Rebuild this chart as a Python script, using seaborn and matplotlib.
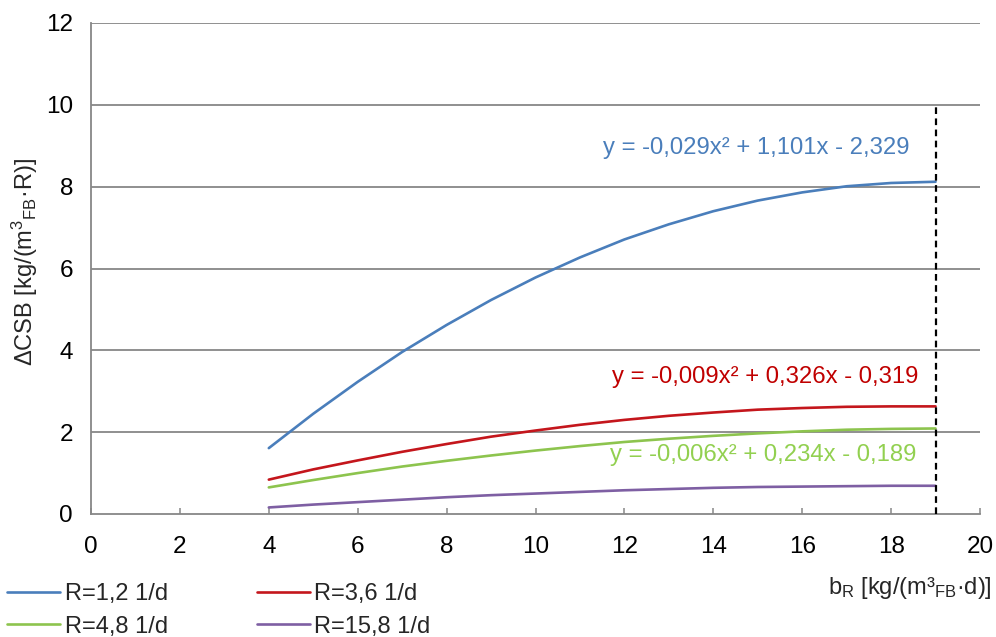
import numpy as np
import pandas as pd
import matplotlib
matplotlib.use("Agg")
import matplotlib.pyplot as plt
from matplotlib.lines import Line2D
import seaborn as sns

# ---- data ----
x_vals = [4, 5, 6, 7, 8, 9, 10, 11, 12, 13, 14, 15, 16, 17, 18, 19]
r12 = [1.61, 2.45, 3.23, 3.96, 4.62, 5.23, 5.78, 6.27, 6.71, 7.08, 7.40, 7.66, 7.86, 8.01, 8.09, 8.12]
r36 = [0.84, 1.09, 1.31, 1.52, 1.71, 1.89, 2.04, 2.18, 2.30, 2.40, 2.48, 2.55, 2.59, 2.62, 2.63, 2.63]
r48 = [0.65, 0.83, 1.00, 1.16, 1.30, 1.43, 1.55, 1.66, 1.76, 1.84, 1.91, 1.97, 2.02, 2.06, 2.08, 2.09]
r158 = [0.16, 0.23, 0.29, 0.35, 0.41, 0.46, 0.50, 0.54, 0.58, 0.61, 0.64, 0.66, 0.67, 0.68, 0.69, 0.69]
series_names = ["R=1,2 1/d", "R=3,6 1/d", "R=4,8 1/d", "R=15,8 1/d"]
colors = ["#4A7EBB", "#C4161C", "#8DC44E", "#7E5FA3"]
eq_texts = ["y = -0,029x² + 1,101x - 2,329",
            "y = -0,009x² + 0,326x - 0,319",
            "y = -0,006x² + 0,234x - 0,189"]
eq_colors = ["#4A7EBB", "#C00000", "#92D050"]
eq_pos = [(18.42, 8.95), (18.62, 3.36), (18.56, 1.45)]
x_ticks = [0, 2, 4, 6, 8, 10, 12, 14, 16, 18, 20]
y_ticks = [0, 2, 4, 6, 8, 10, 12]
vline_x = 19
vline_top = 10

sns.set_theme(style="white")
plt.rcParams["font.family"] = ["Liberation Sans", "DejaVu Sans"]
plt.rcParams["mathtext.fontset"] = "custom"
plt.rcParams["mathtext.rm"] = "Liberation Sans"
plt.rcParams["mathtext.it"] = "Liberation Sans:italic"

frames = []
for name, vals in zip(series_names, [r12, r36, r48, r158]):
    frames.append(pd.DataFrame({"x": x_vals, "y": vals, "series": name}))
df = pd.concat(frames, ignore_index=True)

fig = plt.figure(figsize=(9.96, 6.37), dpi=100)
ax = fig.add_axes([91 / 996, 1 - 514 / 637, (980 - 91) / 996, (514 - 23) / 637])

grid_c = "#878787"
for yt in y_ticks[1:]:
    ax.axhline(yt, color=grid_c, lw=1.3, zorder=0)

sns.lineplot(data=df, x="x", y="y", hue="series", palette=colors,
             hue_order=series_names, lw=1.9, ax=ax, legend=False, zorder=3)

ax.plot([vline_x, vline_x], [0, vline_top], color="black", lw=1.6,
        linestyle=(0, (3, 2)), zorder=4)

for t, c, (px, py) in zip(eq_texts, eq_colors, eq_pos):
    ax.text(px, py, t, color=c, fontsize=17.2, ha="right", va="center")

ax.set_xlim(0, 20)
ax.set_ylim(0, 12)
ax.set_xticks(x_ticks)
ax.set_yticks(y_ticks)
ax.set_xlabel("")
ax.set_ylabel("")
for s in ["top", "right"]:
    ax.spines[s].set_visible(False)
for s in ["left", "bottom"]:
    ax.spines[s].set_color(grid_c)
    ax.spines[s].set_linewidth(1.3)
ax.tick_params(axis="x", direction="in", length=4.5, width=1.1, color=grid_c,
               labelsize=17.5, pad=16, labelcolor="black", bottom=True)
ax.tick_params(axis="y", length=0, labelsize=17.5, pad=13, labelcolor="black")

fig.text(992 / 996, 1 - 588 / 637, r"b$_\mathrm{R}$ [kg/(m³$_\mathrm{FB}$·d)]",
         ha="right", va="center", fontsize=17)
fig.text(25 / 996, 1 - 262 / 637, r"ΔCSB [kg/(m$^3$$_\mathrm{FB}$·R)]",
         ha="center", va="center", rotation=90, fontsize=17)

# legend is filled column by column: order so rows read 1,2 | 3,6 then 4,8 | 15,8
order = [0, 2, 1, 3]
handles = [Line2D([0], [0], color=colors[i], lw=1.9) for i in order]
labels = [series_names[i] for i in order]
fig.legend(handles, labels, loc="upper left",
           bbox_to_anchor=(0 / 996, 1 - 576 / 637), ncol=2, frameon=False,
           fontsize=17, handlelength=2.25, handletextpad=0.2,
           columnspacing=3.75, labelspacing=0.45, borderaxespad=0, borderpad=0.3)

fig.savefig("out.png", dpi=100)
